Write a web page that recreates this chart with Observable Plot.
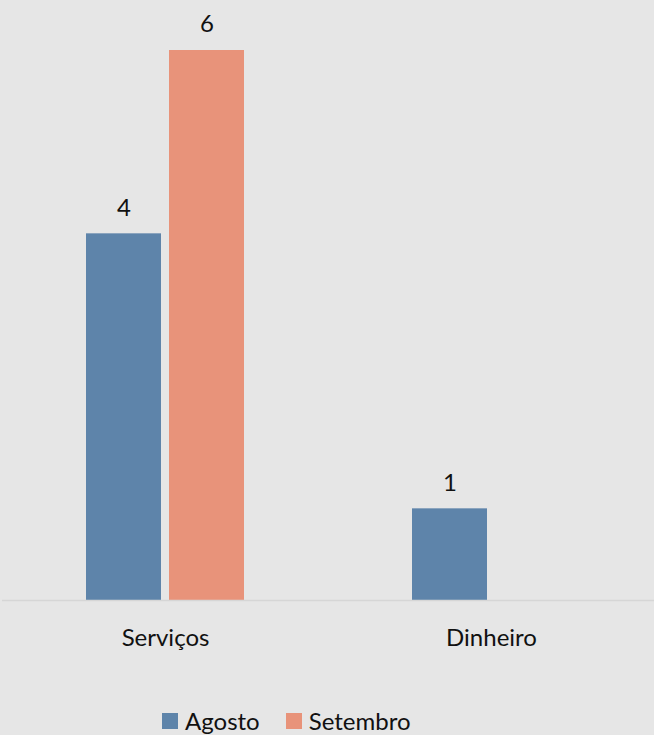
<!DOCTYPE html>
<html>
<head>
<meta charset="utf-8">
<script src="https://cdn.jsdelivr.net/npm/d3@7"></script>
<script src="https://cdn.jsdelivr.net/npm/@observablehq/plot@0.6"></script>
<style>
  html, body { margin: 0; padding: 0; background: #e6e6e6; }
  #chart { width: 654px; }
  .legend { height: 29px; padding-top: 16px; display: flex; align-items: center; padding-left: 162px;
            font-family: Lato, "Open Sans", sans-serif; font-size: 24px; color: #111; }
  .item { display: flex; align-items: center; }
  .sw { width: 16px; height: 16px; margin-right: 7px; }
</style>
</head>
<body>
<div id="chart"></div>
<script>
const categories = ["Serviços", "Dinheiro"];
const series = ["Agosto", "Setembro"];
const agosto = [4, 1];
const setembro = [6, null];
const colors = ["#5e84aa", "#e8937a"];

const data = [];
categories.forEach((c, i) => {
  if (agosto[i] != null) data.push({category: c, series: "Agosto", value: agosto[i]});
  if (setembro[i] != null) data.push({category: c, series: "Setembro", value: setembro[i]});
});

const font = "Lato, 'Open Sans', sans-serif";

const chart = Plot.plot({
  width: 654,
  height: 690,
  marginTop: 50,
  marginBottom: 90,
  marginLeft: 2,
  marginRight: 0,
  style: { background: "#e6e6e6", fontFamily: font, fontSize: "24px", color: "#111" },
  fx: { domain: categories, padding: 0, label: null, axis: "bottom", tickSize: 0, tickPadding: 28 },
  x: { domain: series, paddingInner: 0.095, paddingOuter: 1, axis: null },
  y: { domain: [0, 6], axis: null },
  color: { domain: series, range: colors },
  marks: [
    Plot.barY(data, { fx: "category", x: "series", y: "value", fill: "series" }),
    Plot.ruleY([0], { stroke: "#d6d6d6", strokeWidth: 1.5 }),
    Plot.text(data, { fx: "category", x: "series", y: "value", text: d => String(d.value), dy: -26, fill: "#111", fontSize: 24 })
  ]
});
document.getElementById("chart").appendChild(chart);

const legend = document.createElement("div");
legend.className = "legend";
series.forEach((s, i) => {
  const item = document.createElement("div");
  item.className = "item";
  item.style.marginRight = i === 0 ? "26px" : "0";
  const sw = document.createElement("div");
  sw.className = "sw";
  sw.style.background = colors[i];
  const label = document.createElement("span");
  label.textContent = s;
  item.appendChild(sw);
  item.appendChild(label);
  legend.appendChild(item);
});
document.body.appendChild(legend);
</script>
</body>
</html>
